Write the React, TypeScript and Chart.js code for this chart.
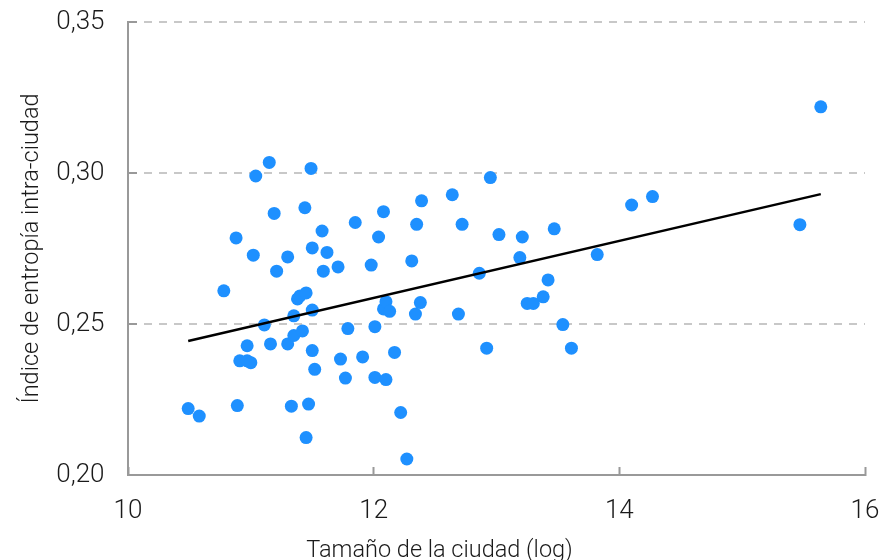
import React, { useEffect, useRef } from 'react';
import { Chart, registerables } from 'chart.js';

Chart.register(...registerables);

// City size (log) — x values
const cityLogSize = [
  10.49, 10.58, 10.78, 10.88, 10.89, 10.91, 10.97, 10.97, 11.0, 11.02,
  11.04, 11.11, 11.15, 11.16, 11.19, 11.21, 11.3, 11.3, 11.33, 11.35,
  11.35, 11.38, 11.4, 11.42, 11.44, 11.45, 11.45, 11.47, 11.49, 11.5,
  11.5, 11.5, 11.52, 11.58, 11.59, 11.62, 11.71, 11.73, 11.77, 11.79,
  11.85, 11.91, 11.98, 12.01, 12.01, 12.04, 12.08, 12.08, 12.1, 12.1,
  12.13, 12.17, 12.22, 12.27, 12.31, 12.34, 12.35, 12.38, 12.39, 12.64,
  12.69, 12.72, 12.86, 12.92, 12.95, 13.02, 13.19, 13.21, 13.25, 13.3,
  13.38, 13.42, 13.47, 13.54, 13.61, 13.82, 14.1, 14.27, 15.47, 15.64,
];

// Intra-city entropy index — y values
const entropyIndex = [
  0.222, 0.2195, 0.261, 0.2785, 0.223, 0.2378, 0.2428, 0.2378, 0.2372, 0.2728,
  0.299, 0.2497, 0.3035, 0.2434, 0.2866, 0.2675, 0.2722, 0.2434, 0.2228, 0.2527,
  0.2462, 0.2583, 0.2593, 0.2477, 0.2885, 0.2603, 0.2124, 0.2235, 0.3015, 0.2752,
  0.2546, 0.2412, 0.235, 0.2808, 0.2675, 0.2737, 0.2689, 0.2384, 0.2321, 0.2485,
  0.2836, 0.2391, 0.2695, 0.2491, 0.2323, 0.2788, 0.2872, 0.255, 0.2574, 0.2316,
  0.2542, 0.2406, 0.2207, 0.2053, 0.2709, 0.2533, 0.283, 0.2571, 0.2908, 0.2928,
  0.2533, 0.283, 0.2668, 0.242, 0.2985, 0.2796, 0.272, 0.2788, 0.2568, 0.2568,
  0.259, 0.2646, 0.2815, 0.2498, 0.242, 0.273, 0.2894, 0.2922, 0.2829, 0.3219,
];

// Linear trend line end points
const trendX = [10.49, 15.64];
const trendY = [0.2444, 0.293];

const xTickLabels = ['10', '12', '14', '16'];
const yTickLabels = ['0,20', '0,25', '0,30', '0,35'];
const xTitle = 'Tamaño de la ciudad (log)';
const yTitle = 'Índice de entropía intra-ciudad';

const FONT = 'Roboto, "Liberation Sans", Arial, sans-serif';
const TEXT_COLOR = '#1a1a1a';
const AXIS_COLOR = '#999999';

export default function App() {
  const ref = useRef<HTMLCanvasElement>(null);

  useEffect(() => {
    if (!ref.current) return;
    const xTitlePlugin = {
      id: 'xTitleText',
      afterDraw(chart: any) {
        const { ctx, chartArea } = chart;
        ctx.save();
        ctx.font = `300 23.5px ${FONT}`;
        ctx.fillStyle = TEXT_COLOR;
        ctx.textAlign = 'center';
        ctx.textBaseline = 'alphabetic';
        ctx.fillText(xTitle, chartArea.left + 311.5, chartArea.bottom + 81.5);
        ctx.restore();
      },
    };

    const chart = new Chart(ref.current, {
      type: 'scatter',
      data: {
        datasets: [
          {
            type: 'line',
            data: trendX.map((x, i) => ({ x, y: trendY[i] })),
            borderColor: '#000000',
            borderWidth: 2.5,
            pointRadius: 0,
            fill: false,
            order: 0,
          } as any,
          {
            data: cityLogSize.map((x, i) => ({ x, y: entropyIndex[i] })),
            backgroundColor: '#1E90FF',
            borderWidth: 0,
            pointRadius: 6.5,
            order: 1,
          },
        ],
      },
      options: {
        animation: false,
        responsive: false,
        devicePixelRatio: 1,
        layout: { padding: { left: 0, top: 22, right: 19, bottom: 0 } },
        plugins: { legend: { display: false }, tooltip: { enabled: false } },
        scales: {
          x: {
            type: 'linear',
            min: 10,
            max: 16,
            ticks: {
              stepSize: 2,
              callback: (_v: any, i: number) => xTickLabels[i],
              font: { family: FONT, size: 26, weight: '300' as any },
              color: TEXT_COLOR,
              padding: 29,
              maxRotation: 0,
            },
            grid: {
              display: true,
              drawOnChartArea: false,
              drawTicks: true,
              tickLength: -8,
              tickColor: AXIS_COLOR,
              tickWidth: 2,
            },
            border: { display: true, color: AXIS_COLOR, width: 2 },
            afterFit: (s: any) => {
              s.height = 85;
              s.paddingLeft = 0;
              s.paddingRight = 0;
            },
          },
          y: {
            type: 'linear',
            min: 0.2,
            max: 0.35,
            ticks: {
              stepSize: 0.05,
              callback: (_v: any, i: number) => yTickLabels[i],
              font: { family: FONT, size: 26, weight: '300' as any },
              color: TEXT_COLOR,
              padding: 32.5,
            },
            grid: {
              color: '#c8c8c8',
              lineWidth: 2,
              drawTicks: true,
              tickLength: -9,
              tickColor: AXIS_COLOR,
              tickWidth: 2,
              tickBorderDash: [],
            } as any,
            border: { display: true, color: AXIS_COLOR, width: 2, dash: [8, 7] },
            title: {
              display: true,
              text: yTitle,
              font: { family: FONT, size: 23.5, weight: '300' as any },
              color: TEXT_COLOR,
              padding: { top: 18, bottom: 0 },
            },
            afterFit: (s: any) => {
              s.width = 128;
              s.paddingTop = 0;
              s.paddingBottom = 0;
            },
          },
        },
      },
      plugins: [xTitlePlugin],
    } as any);

    return () => chart.destroy();
  }, []);

  return (
    <div style={{ position: 'fixed', left: 0, top: 0, width: 884, height: 560, background: '#ffffff' }}>
      <canvas ref={ref} width={884} height={560} style={{ display: 'block' }} />
    </div>
  );
}
